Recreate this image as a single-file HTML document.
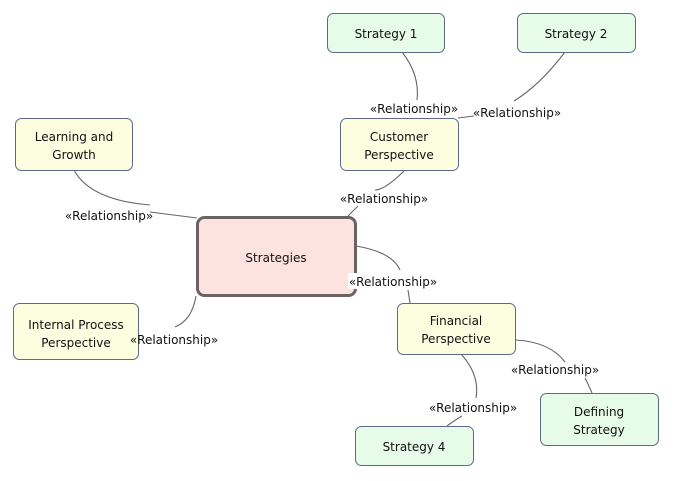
<!DOCTYPE html>
<html><head><meta charset="utf-8"><style>
html,body{margin:0;padding:0;background:#fff;}
svg{display:block;}
text{font-family:"DejaVu Sans","Liberation Sans",sans-serif;font-size:12px;fill:#111;}
.g{fill:#e6fbe8;stroke:#5a6a88;stroke-width:1;}
.y{fill:#fdfde0;stroke:#5a6a88;stroke-width:1;}
.c{fill:none;stroke:#666;stroke-width:1.1;}
.lbl{fill:#fff;stroke:none;}
</style></head><body>
<svg width="676" height="481" viewBox="0 0 676 481" xmlns="http://www.w3.org/2000/svg">
<!-- connectors -->
<path class="c" d="M402,52 Q420,75 417,100"/>
<path class="c" d="M565,52 Q540,85 514,101"/>
<path class="c" d="M458,118 L474,116"/>
<path class="c" d="M405,170 Q385,190 375,190"/>
<path class="c" d="M358,206 L348,216"/>
<path class="c" d="M74,170 Q90,200 150,205"/>
<path class="c" d="M150,212 L197,218"/>
<path class="c" d="M356,246 Q392,252 400,270"/>
<path class="c" d="M408,290 L410,303"/>
<path class="c" d="M196,296 Q192,320 175,327"/>
<path class="c" d="M461,354 Q480,375 476,398"/>
<path class="c" d="M462,416 Q455,420 447,426"/>
<path class="c" d="M516,340 Q550,342 565,362"/>
<path class="c" d="M585,378 Q590,388 592,393"/>
<!-- nodes -->
<rect class="g" x="327.5" y="13.5" width="117" height="39" rx="6"/>
<text x="386" y="38" text-anchor="middle">Strategy 1</text>
<rect class="g" x="517.5" y="13.5" width="118" height="39" rx="6"/>
<text x="576" y="38" text-anchor="middle">Strategy 2</text>
<rect class="y" x="340.5" y="118.5" width="118" height="52" rx="6"/>
<text x="399" y="141" text-anchor="middle">Customer</text>
<text x="399" y="159" text-anchor="middle">Perspective</text>
<rect class="y" x="15.5" y="118.5" width="117" height="52" rx="6"/>
<text x="74" y="141" text-anchor="middle">Learning and</text>
<text x="74" y="159" text-anchor="middle">Growth</text>
<rect x="197.5" y="217.5" width="158" height="78" rx="7" fill="#fde3e0" stroke="#6b6363" stroke-width="3"/>
<text x="276" y="262" text-anchor="middle">Strategies</text>
<rect class="y" x="13.5" y="303.5" width="125" height="56" rx="6"/>
<text x="76" y="329" text-anchor="middle">Internal Process</text>
<text x="76" y="347" text-anchor="middle">Perspective</text>
<rect class="y" x="397.5" y="303.5" width="118" height="51" rx="6"/>
<text x="456" y="325" text-anchor="middle">Financial</text>
<text x="456" y="343" text-anchor="middle">Perspective</text>
<rect class="g" x="540.5" y="393.5" width="118" height="52" rx="6"/>
<text x="599" y="416" text-anchor="middle">Defining</text>
<text x="599" y="434" text-anchor="middle">Strategy</text>
<rect class="g" x="355.5" y="426.5" width="118" height="39" rx="6"/>
<text x="414" y="451" text-anchor="middle">Strategy 4</text>
<!-- labels -->
<text x="414" y="113" text-anchor="middle">«Relationship»</text>
<text x="517" y="117" text-anchor="middle">«Relationship»</text>
<text x="384" y="203" text-anchor="middle">«Relationship»</text>
<text x="109" y="220" text-anchor="middle">«Relationship»</text>
<rect class="lbl" x="348" y="273" width="90" height="16"/>
<text x="393" y="286" text-anchor="middle">«Relationship»</text>
<text x="174" y="344" text-anchor="middle">«Relationship»</text>
<text x="555" y="374" text-anchor="middle">«Relationship»</text>
<text x="473" y="412" text-anchor="middle">«Relationship»</text>
</svg>
</body></html>
